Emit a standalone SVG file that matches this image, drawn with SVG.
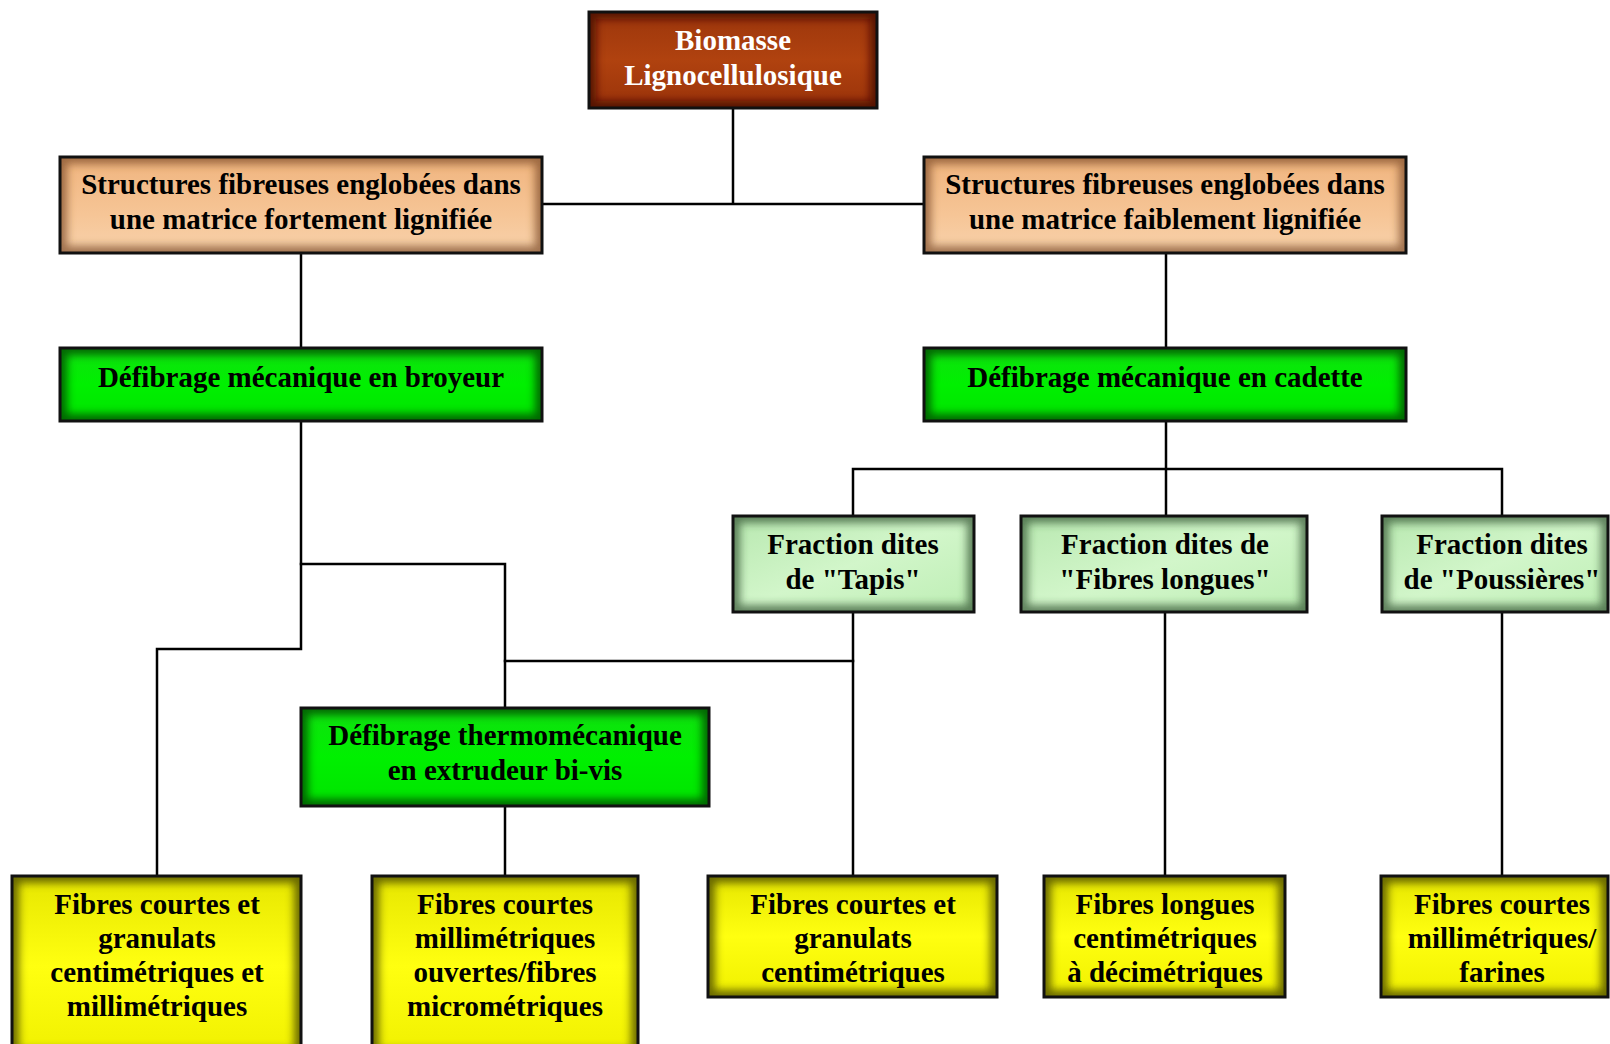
<svg xmlns="http://www.w3.org/2000/svg" width="1610" height="1044" viewBox="0 0 1610 1044">
  <defs>
    <linearGradient id="gBrown" x1="0" y1="0" x2="0" y2="1">
      <stop offset="0" stop-color="#9c360c"/>
      <stop offset="0.5" stop-color="#b0420f"/>
      <stop offset="1" stop-color="#9a330a"/>
    </linearGradient>
    <linearGradient id="gPeach" x1="0" y1="0" x2="0" y2="1">
      <stop offset="0" stop-color="#f0b47e"/>
      <stop offset="0.6" stop-color="#f6c596"/>
      <stop offset="1" stop-color="#f8d2ac"/>
    </linearGradient>
    <linearGradient id="gGreen" x1="0" y1="0" x2="0" y2="1">
      <stop offset="0" stop-color="#10e010"/>
      <stop offset="0.5" stop-color="#00f000"/>
      <stop offset="1" stop-color="#00e400"/>
    </linearGradient>
    <linearGradient id="gMint" x1="0" y1="0" x2="1" y2="1">
      <stop offset="0" stop-color="#b8e8b0"/>
      <stop offset="0.5" stop-color="#d2f6ca"/>
      <stop offset="1" stop-color="#bdeeb4"/>
    </linearGradient>
    <linearGradient id="gYellow" x1="0" y1="0" x2="0" y2="1">
      <stop offset="0" stop-color="#e6e600"/>
      <stop offset="0.5" stop-color="#ffff10"/>
      <stop offset="1" stop-color="#f0f000"/>
    </linearGradient>
    <filter id="soft" x="-5%" y="-10%" width="110%" height="120%">
      <feGaussianBlur stdDeviation="4"/>
    </filter>
    <clipPath id="bb" clipPathUnits="objectBoundingBox">
      <rect x="0" y="0" width="1" height="1"/>
    </clipPath>
  </defs>
  <style>
    .box { stroke: #111; stroke-width: 3; }
    .edge { fill: none; stroke-width: 14; filter: url(#soft); clip-path: url(#bb); }
    .brown { fill: url(#gBrown); }
    .peach { fill: url(#gPeach); }
    .green { fill: url(#gGreen); }
    .mint { fill: url(#gMint); }
    .yellow { fill: url(#gYellow); }
    .eBrown { stroke: #4a1004; opacity: 0.85; }
    .ePeach { stroke: #7a4a28; opacity: 0.7; }
    .eGreen { stroke: #004a00; opacity: 0.8; }
    .eMint { stroke: #2f4f2f; opacity: 0.7; }
    .eYellow { stroke: #4a4a00; opacity: 0.8; }
    text { font-family: "Liberation Serif", "Times New Roman", serif; font-weight: bold; font-size: 29px; text-anchor: middle; fill: #000; }
    .white { fill: #fff; }
    .conn { stroke: #000; stroke-width: 2.5; fill: none; stroke-linecap: square; }
  </style>
  <rect width="1610" height="1044" fill="#fff"/>

  <g id="connectors">
    <path class="conn" d="M733,108 V204 M542,204 H924"/>
    <path class="conn" d="M301,253 V348"/>
    <path class="conn" d="M1166,253 V348"/>
    <path class="conn" d="M1166,421 V516 M853,469 H1502 M853,469 V516 M1502,469 V516"/>
    <path class="conn" d="M301,421 V649 H157 V876"/>
    <path class="conn" d="M301,564 H505 V708"/>
    <path class="conn" d="M505,661 H853"/>
    <path class="conn" d="M853,612 V876"/>
    <path class="conn" d="M1165,612 V876"/>
    <path class="conn" d="M1502,612 V876"/>
    <path class="conn" d="M505,806 V876"/>
  </g>

  <g id="biomasse">
    <rect class="brown" x="589" y="12" width="288" height="96"/>
    <rect class="edge eBrown" x="589" y="12" width="288" height="96"/>
    <rect class="box" fill="none" x="589" y="12" width="288" height="96"/>
    <text class="white" x="733" y="50">Biomasse</text>
    <text class="white" x="733" y="85">Lignocellulosique</text>
  </g>

  <g id="structures-fortement">
    <rect class="peach" x="60" y="157" width="482" height="96"/>
    <rect class="edge ePeach" x="60" y="157" width="482" height="96"/>
    <rect class="box" fill="none" x="60" y="157" width="482" height="96"/>
    <text x="301" y="194">Structures fibreuses englobées dans</text>
    <text x="301" y="229">une matrice fortement lignifiée</text>
  </g>

  <g id="structures-faiblement">
    <rect class="peach" x="924" y="157" width="482" height="96"/>
    <rect class="edge ePeach" x="924" y="157" width="482" height="96"/>
    <rect class="box" fill="none" x="924" y="157" width="482" height="96"/>
    <text x="1165" y="194">Structures fibreuses englobées dans</text>
    <text x="1165" y="229">une matrice faiblement lignifiée</text>
  </g>

  <g id="broyeur">
    <rect class="green" x="60" y="348" width="482" height="73"/>
    <rect class="edge eGreen" x="60" y="348" width="482" height="73"/>
    <rect class="box" fill="none" x="60" y="348" width="482" height="73"/>
    <text x="301" y="387">Défibrage mécanique en broyeur</text>
  </g>

  <g id="cadette">
    <rect class="green" x="924" y="348" width="482" height="73"/>
    <rect class="edge eGreen" x="924" y="348" width="482" height="73"/>
    <rect class="box" fill="none" x="924" y="348" width="482" height="73"/>
    <text x="1165" y="387">Défibrage mécanique en cadette</text>
  </g>

  <g id="tapis">
    <rect class="mint" x="733" y="516" width="241" height="96"/>
    <rect class="edge eMint" x="733" y="516" width="241" height="96"/>
    <rect class="box" fill="none" x="733" y="516" width="241" height="96"/>
    <text x="853" y="554">Fraction dites</text>
    <text x="853" y="589">de "Tapis"</text>
  </g>

  <g id="fibres-longues-fraction">
    <rect class="mint" x="1021" y="516" width="286" height="96"/>
    <rect class="edge eMint" x="1021" y="516" width="286" height="96"/>
    <rect class="box" fill="none" x="1021" y="516" width="286" height="96"/>
    <text x="1165" y="554">Fraction dites de</text>
    <text x="1165" y="589">"Fibres longues"</text>
  </g>

  <g id="poussieres">
    <rect class="mint" x="1382" y="516" width="226" height="96"/>
    <rect class="edge eMint" x="1382" y="516" width="226" height="96"/>
    <rect class="box" fill="none" x="1382" y="516" width="226" height="96"/>
    <text x="1502" y="554">Fraction dites</text>
    <text x="1502" y="589">de "Poussières"</text>
  </g>

  <g id="thermomecanique">
    <rect class="green" x="301" y="708" width="408" height="98"/>
    <rect class="edge eGreen" x="301" y="708" width="408" height="98"/>
    <rect class="box" fill="none" x="301" y="708" width="408" height="98"/>
    <text x="505" y="745">Défibrage thermomécanique</text>
    <text x="505" y="780">en extrudeur bi-vis</text>
  </g>

  <g id="res-broyeur">
    <rect class="yellow" x="12" y="876" width="289" height="180"/>
    <rect class="edge eYellow" x="12" y="876" width="289" height="180"/>
    <rect class="box" fill="none" x="12" y="876" width="289" height="180"/>
    <text x="157" y="914">Fibres courtes et</text>
    <text x="157" y="948">granulats</text>
    <text x="157" y="982">centimétriques et</text>
    <text x="157" y="1016">millimétriques</text>
  </g>

  <g id="res-thermo">
    <rect class="yellow" x="372" y="876" width="266" height="180"/>
    <rect class="edge eYellow" x="372" y="876" width="266" height="180"/>
    <rect class="box" fill="none" x="372" y="876" width="266" height="180"/>
    <text x="505" y="914">Fibres courtes</text>
    <text x="505" y="948">millimétriques</text>
    <text x="505" y="982">ouvertes/fibres</text>
    <text x="505" y="1016">micrométriques</text>
  </g>

  <g id="res-tapis">
    <rect class="yellow" x="708" y="876" width="289" height="121"/>
    <rect class="edge eYellow" x="708" y="876" width="289" height="121"/>
    <rect class="box" fill="none" x="708" y="876" width="289" height="121"/>
    <text x="853" y="914">Fibres courtes et</text>
    <text x="853" y="948">granulats</text>
    <text x="853" y="982">centimétriques</text>
  </g>

  <g id="res-longues">
    <rect class="yellow" x="1044" y="876" width="241" height="121"/>
    <rect class="edge eYellow" x="1044" y="876" width="241" height="121"/>
    <rect class="box" fill="none" x="1044" y="876" width="241" height="121"/>
    <text x="1165" y="914">Fibres longues</text>
    <text x="1165" y="948">centimétriques</text>
    <text x="1165" y="982">à décimétriques</text>
  </g>

  <g id="res-poussieres">
    <rect class="yellow" x="1381" y="876" width="227" height="121"/>
    <rect class="edge eYellow" x="1381" y="876" width="227" height="121"/>
    <rect class="box" fill="none" x="1381" y="876" width="227" height="121"/>
    <text x="1502" y="914">Fibres courtes</text>
    <text x="1502" y="948">millimétriques/</text>
    <text x="1502" y="982">farines</text>
  </g>
</svg>
